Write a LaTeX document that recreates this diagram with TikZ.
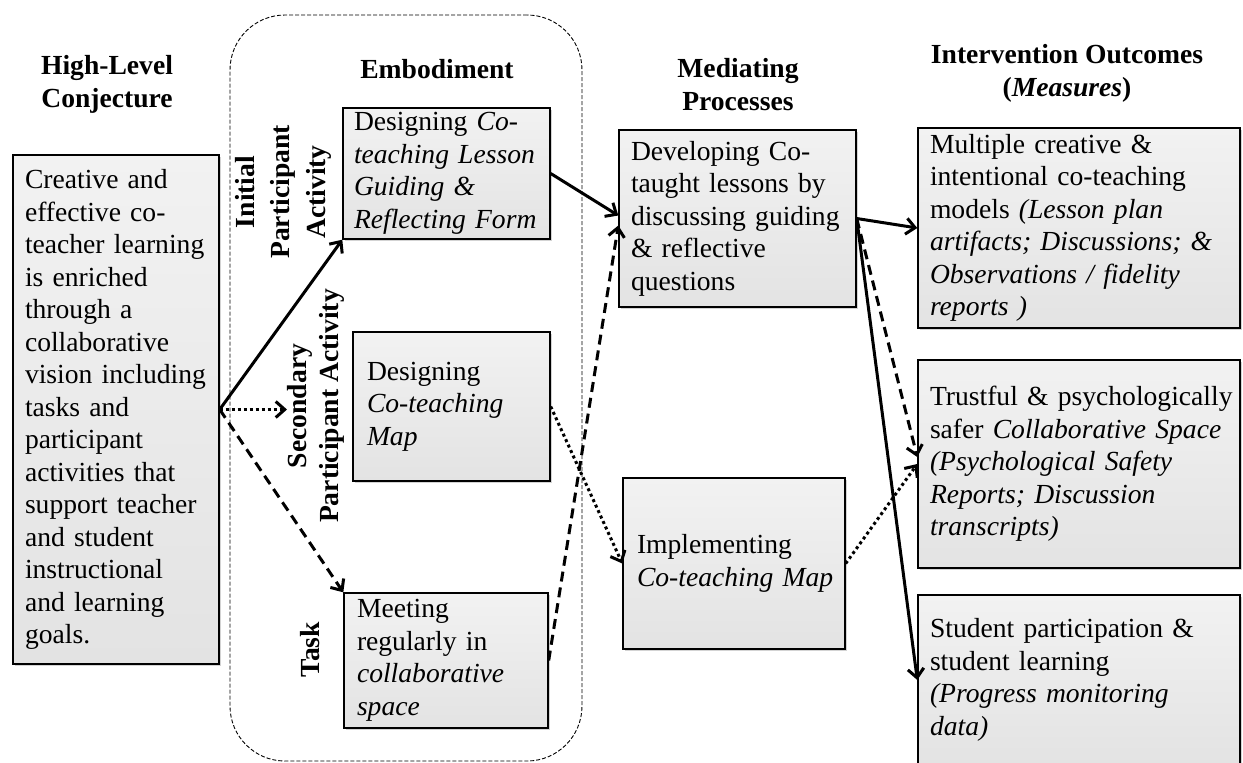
\documentclass[tikz,border=0pt]{standalone}
\usepackage{fontspec}
\setmainfont{Liberation Serif}
\usetikzlibrary{arrows.meta,shadows,calc}
\definecolor{boxtop}{RGB}{242,242,242}
\definecolor{boxbot}{RGB}{227,227,227}
\hyphenpenalty=10000
\exhyphenpenalty=10000
\begin{document}
\begin{tikzpicture}[x=1pt,y=-1pt,
  hdr/.style={font=\fontsize{27.6}{33}\selectfont\bfseries, align=center, inner sep=0pt},
  box/.style={draw=black, line width=1.4pt, shade, top color=boxtop, bottom color=boxbot,
    drop shadow={shadow xshift=2pt, shadow yshift=-2pt, opacity=0.35},
    align=left, inner ysep=0pt, font=\fontsize{27.6}{32.5}\selectfont},
  conn/.style={line width=3pt, -{Straight Barb[length=9pt,width=16pt]}},
  solidc/.style={conn},
  dashc/.style={conn, dash pattern=on 10pt off 6pt},
  dotc/.style={conn, dash pattern=on 3pt off 3pt},
  grpbox/.style={draw=black, line width=0.9pt, dash pattern=on 4pt off 2pt, rounded corners=55pt}
]
\useasboundingbox (0,0) rectangle (1243,763);

% group frame
\node[grpbox, minimum width=352pt, minimum height=746pt, inner sep=0pt] (grp) at (406,388) {};

% headers
\node[hdr] (conjH) at (107,84) {High-Level\\Conjecture};
\node[hdr] (embH) at (437,69.5) {Embodiment};
\node[hdr] (medH) at (738,84.5) {Mediating\\Processes};
\node[hdr] (outH) at (1067,73.5) {Intervention Outcomes\\(\textit{Measures})};

% rotated labels
\node[hdr, rotate=90, font=\fontsize{27.6}{35.5}\selectfont\bfseries] (initL) at (283,192) {Initial\\Participant\\Activity};
\node[hdr, rotate=90, font=\fontsize{27.6}{32}\selectfont\bfseries] (secL) at (316,406) {Secondary\\Participant Activity};
\node[hdr, rotate=90] (taskL) at (310,650) {Task};

% boxes
\node[box, minimum width=206pt, minimum height=509pt, text width=182pt, inner xsep=12pt] (conj) at (116,409.5)
 {Creative and\\effective co-\\teacher learning\\is enriched\\through a\\collaborative\\vision including\\tasks and\\participant\\activities that\\support teacher\\and student\\instructional\\and learning\\goals.};

\node[box, minimum width=207pt, minimum height=131pt, text width=185pt, inner xsep=11pt] (emb1) at (446.5,173.5)
 {Designing \textit{Co-}\\\textit{teaching Lesson}\\\textit{Guiding \&}\\\textit{Reflecting Form}};

\node[box, minimum width=197pt, minimum height=149pt, text width=169pt, inner xsep=14pt] (emb2) at (451.5,406.5)
 {Designing\\\textit{Co-teaching}\\\textit{Map}};

\node[box, minimum width=204pt, minimum height=135pt, text width=178pt, inner xsep=13pt] (emb3) at (446,660.5)
 {Meeting\\regularly in\\\textit{collaborative}\\\textit{space}};

\node[box, minimum width=237pt, minimum height=177pt, text width=213pt, inner xsep=12pt] (med1) at (737.5,218.5)
 {Developing Co-\\taught lessons by\\discussing guiding\\\& reflective\\questions};

\node[box, minimum width=222pt, minimum height=171pt, text width=204pt, inner xsep=9pt] (med2) at (734,563.5)
 {\hspace*{5pt}\mbox{Implementing}\\\hspace*{5pt}\mbox{\textit{Co-teaching Map}}};

\node[box, minimum width=322pt, minimum height=200pt, text width=306pt, inner xsep=8pt] (out1) at (1079,228)
 {\hspace*{4pt}Multiple creative \&\\\hspace*{4pt}intentional co-teaching\\\hspace*{4pt}models \textit{(Lesson plan}\\\hspace*{4pt}\textit{artifacts; Discussions; \&}\\\hspace*{4pt}\textit{Observations / fidelity}\\\hspace*{4pt}\textit{reports )}};

\node[box, minimum width=322pt, minimum height=208pt, text width=306pt, inner xsep=8pt] (out2) at (1079,464)
 {\hspace*{4pt}\mbox{Trustful \& psychologically}\\\hspace*{4pt}safer \textit{Collaborative Space}\\\hspace*{4pt}\textit{(Psychological Safety}\\\hspace*{4pt}\textit{Reports; Discussion}\\\hspace*{4pt}\textit{transcripts)}};

\node[box, minimum width=322pt, minimum height=170pt, text width=306pt, inner xsep=8pt] (out3) at (1079,680)
 {\hspace*{4pt}Student participation \&\\\hspace*{4pt}student learning\\\hspace*{4pt}\textit{(Progress monitoring}\\\hspace*{4pt}\textit{data)}};

% connectors
\coordinate (secTip) at (287,409.5);
\draw[solidc] (conj.east) -- (emb1.south west);
\draw[dotc] (conj.east) -- (secTip);
\draw[dashc] (conj.east) -- (emb3.north west);
\draw[solidc] (emb1.east) -- ($(med1.west)+(0,-3)$);
\draw[dashc] (emb3.east) -- ($(med1.west)+(0,7)$);
\draw[dotc] (emb2.east) -- (med2.west);
\draw[solidc] (med1.east) -- (out1.west);
\draw[dashc] (med1.east) -- ($(out2.west)+(0,-7)$);
\draw[solidc] (med1.east) -- (out3.west);
\draw[dotc] (med2.east) -- (out2.west);
\end{tikzpicture}
\end{document}
